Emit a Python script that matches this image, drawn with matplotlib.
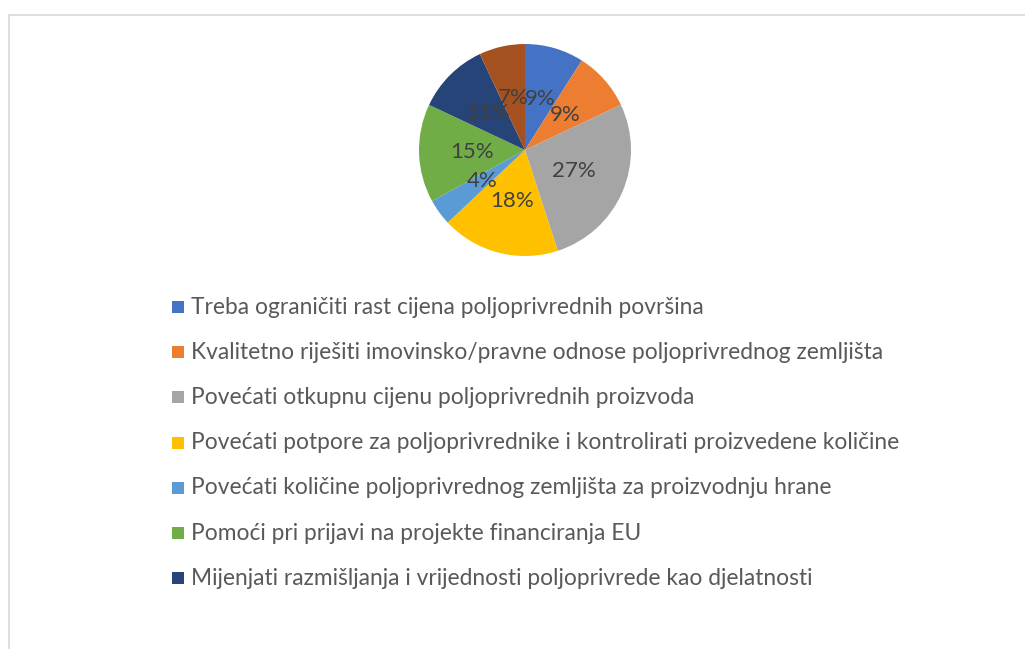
import matplotlib
matplotlib.use("Agg")
import matplotlib.pyplot as plt
from matplotlib.patches import Rectangle
from matplotlib.lines import Line2D

plt.rcParams['font.family'] = ['Lato', 'DejaVu Sans']

# Survey answers (share of respondents, %)
categories = [
    "Treba ograničiti rast cijena poljoprivrednih površina",
    "Kvalitetno riješiti imovinsko/pravne odnose poljoprivrednog zemljišta",
    "Povećati otkupnu cijenu poljoprivrednih proizvoda",
    "Povećati potpore za poljoprivrednike i kontrolirati proizvedene količine",
    "Povećati količine poljoprivrednog zemljišta za proizvodnju hrane",
    "Pomoći pri prijavi na projekte financiranja EU",
    "Mijenjati razmišljanja i vrijednosti poljoprivrede kao djelatnosti",
]
values = [9, 9, 27, 18, 4, 15, 11, 7]
colors = ["#4472C4", "#ED7D31", "#A5A5A5", "#FFC000",
          "#5B9BD5", "#70AD47", "#264478", "#A5501F"]

W, H = 1025, 649
fig = plt.figure(figsize=(W / 100, H / 100), dpi=100)
fig.patch.set_facecolor("white")

# chart-area frame (top and left edges visible)
fig.add_artist(Line2D([8.5 / W, 8.5 / W], [0, 1 - 14.5 / H],
                      transform=fig.transFigure, color="#D9D9D9", lw=1.2))
fig.add_artist(Line2D([8.5 / W, 1], [1 - 14.5 / H, 1 - 14.5 / H],
                      transform=fig.transFigure, color="#D9D9D9", lw=1.2))

# pie
cx, cy, r = 525, 150, 106
ax = fig.add_axes([(cx - r) / W, 1 - (cy + r) / H, 2 * r / W, 2 * r / H])
wedges, texts = ax.pie(values, colors=colors, startangle=90, counterclock=False,
                       labels=[f"{v}%" for v in values], labeldistance=0.5,
                       wedgeprops=dict(linewidth=0),
                       textprops=dict(color="#404040", fontsize=16,
                                      ha="center", va="center"))
ax.set_xlim(-1, 1)
ax.set_ylim(-1, 1)
ax.set_aspect("equal")
ax.axis("off")

# legend
y0, dy = 307, 45.2
for i, (name, col) in enumerate(zip(categories, colors)):
    y = y0 + i * dy
    fig.add_artist(Rectangle((172 / W, 1 - (y + 6) / H), 12 / W, 12 / H,
                             transform=fig.transFigure, facecolor=col,
                             edgecolor="none"))
    fig.text(191 / W, 1 - y / H, name, fontsize=16.4, color="#595959",
             ha="left", va="center")

fig.savefig("out.png", dpi=100)
